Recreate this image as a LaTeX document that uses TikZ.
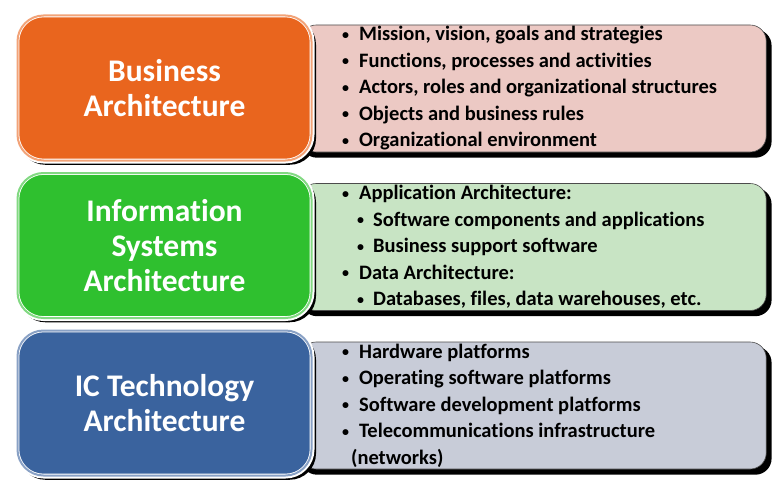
\documentclass[tikz,border=0pt]{standalone}
\usepackage{fontspec}
\setmainfont{Carlito}[Ligatures=NoCommon]
\usetikzlibrary{positioning,shadows,backgrounds}

\definecolor{bizorange}{RGB}{233,101,30}
\definecolor{infgreen}{RGB}{47,192,47}
\definecolor{techblue}{RGB}{58,99,158}
\definecolor{bizpink}{RGB}{236,201,196}
\definecolor{infmint}{RGB}{200,228,196}
\definecolor{techgray}{RGB}{200,204,216}

\newcommand{\dotmark}{\raisebox{1.5pt}{\fontsize{14}{14}\selectfont\textbullet}}
\newcommand{\itm}[1]{\makebox[17pt][l]{\dotmark}#1}
\newcommand{\subitm}[1]{\hspace*{15pt}\makebox[16pt][l]{\dotmark}#1}

\begin{document}
\begin{tikzpicture}[x=1pt,y=1pt,node distance=157.5pt,
                    titlebox/.style={rounded corners=26pt,minimum width=294pt,
                      minimum height=145pt,align=center,text=white,
                      font=\fontsize{31.5}{35}\selectfont\bfseries,
                      general shadow={fill=black,shadow scale=1.01,
                        shadow xshift=3pt,shadow yshift=-3.5pt},
                      preaction={draw=white,line width=6pt},
                      draw=white,line width=0.8pt,double distance=2pt},
                    listbox/.style={rounded corners=16pt,minimum width=466pt,
                      minimum height=127pt,draw=black!70,line width=0.6pt,
                      general shadow={fill=black,shadow scale=1.01,
                        shadow xshift=3pt,shadow yshift=-5pt}},
                    listtext/.style={inner sep=0pt,align=left,
                      font=\fontsize{20.5}{26.5}\selectfont\bfseries}]
  \useasboundingbox (0,0) rectangle (773,-487);

  % left column
  \node[titlebox,fill=bizorange,double=bizorange!60!white] (bus) at (164.5,-88)
    {Business\\Architecture};
  \node[titlebox,fill=infgreen,double=infgreen!60!white]   (inf) [below of=bus]
    {Information\\Systems\\Architecture};
  \node[titlebox,fill=techblue,double=techblue!60!white]   (tec) [below of=inf]
    {IC Technology\\Architecture};

  % right column, behind the titles
  \begin{scope}[on background layer]
    \node[listbox,fill=bizpink]  (busl) [right=-12pt of bus,yshift=-0.5pt] {};
    \node[listbox,fill=infmint]  (infl) [right=-12pt of inf,yshift=-1.5pt] {};
    \node[listbox,fill=techgray] (tecl) [right=-12pt of tec,yshift=-2.5pt] {};
  \end{scope}

  \node[listtext] (busi) [right=42pt of busl.west]
    {\itm{Mission, vision, goals and strategies}\\
     \itm{Functions, processes and activities}\\
     \itm{Actors, roles and organizational structures}\\
     \itm{Objects and business rules}\\
     \itm{Organizational environment}};
  \node[listtext] (infi) [right=42pt of infl.west]
    {\itm{Application Architecture:}\\
     \subitm{Software components and applications}\\
     \subitm{Business support software}\\
     \itm{Data Architecture:}\\
     \subitm{Databases, files, data warehouses, etc.}};
  \node[listtext] (teci) [right=42pt of tecl.west]
    {\itm{Hardware platforms}\\
     \itm{Operating software platforms}\\
     \itm{Software development platforms}\\
     \itm{Telecommunications infrastructure}\\
     \hspace*{9pt}(networks)};

\end{tikzpicture}
\end{document}
